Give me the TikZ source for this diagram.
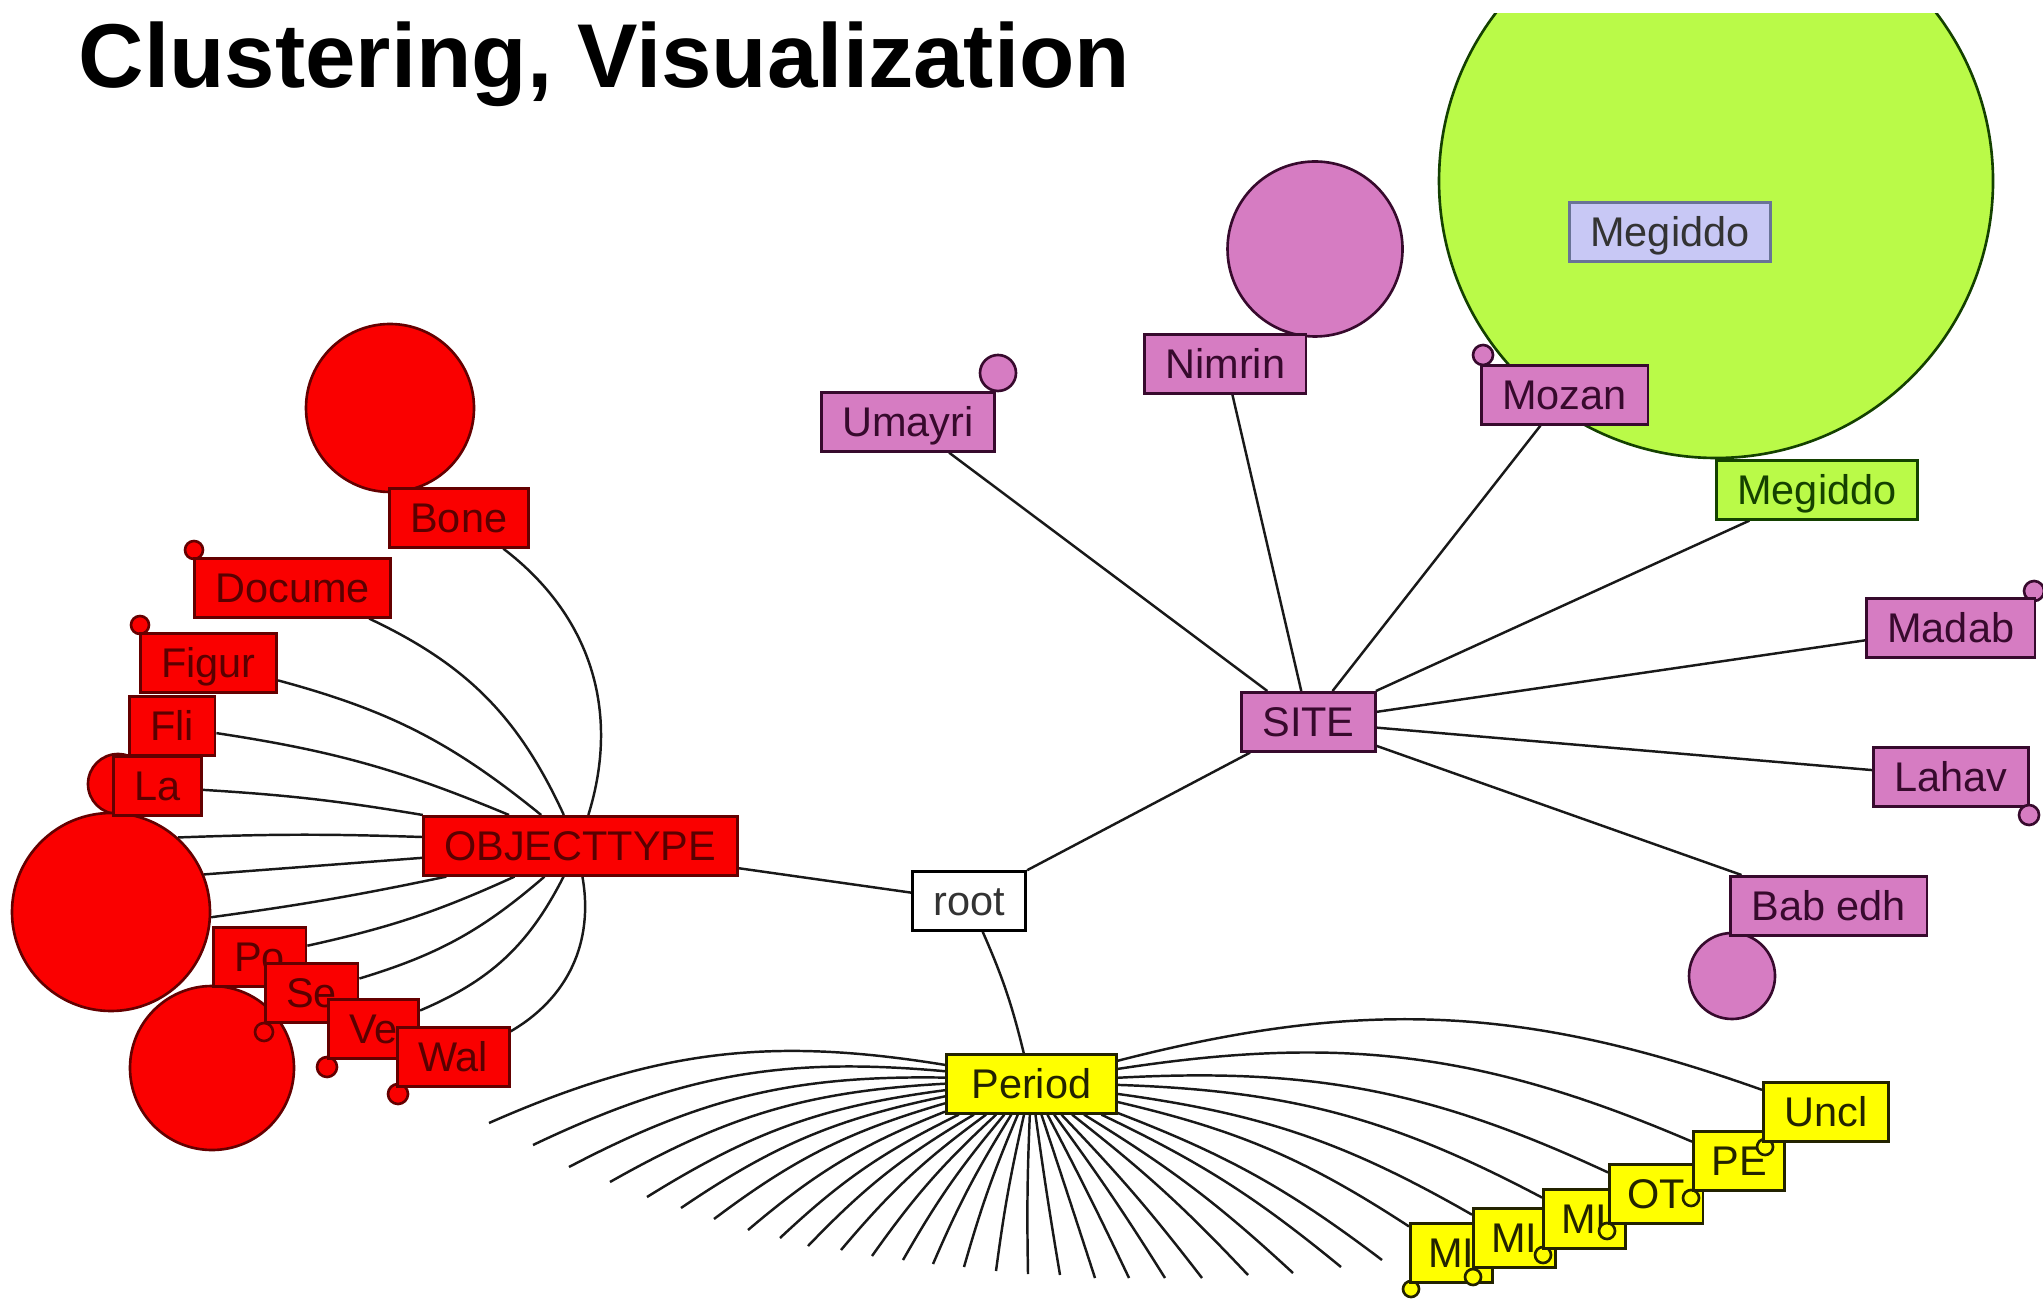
\documentclass[tikz,border=0pt]{standalone}
\usepackage{fontspec}
\setmainfont{Liberation Sans}
\usetikzlibrary{backgrounds}

\definecolor{nodered}{RGB}{250,0,0}
\definecolor{reddark}{RGB}{100,0,0}
\definecolor{redtext}{RGB}{90,0,0}
\definecolor{nodepink}{RGB}{214,124,194}
\definecolor{pinkdark}{RGB}{55,10,45}
\definecolor{nodeyellow}{RGB}{255,255,0}
\definecolor{yellowdark}{RGB}{35,35,0}
\definecolor{nodegreen}{RGB}{186,250,72}
\definecolor{greendark}{RGB}{20,65,0}
\definecolor{boxlavender}{RGB}{200,200,245}
\definecolor{lavenderdark}{RGB}{105,115,150}

\begin{document}
\begin{tikzpicture}[x=0.1mm, y=-0.1mm,
  label box/.style={rectangle, draw, line width=0.75pt, anchor=north west,
    inner xsep=0.21cm, inner ysep=0.145cm, text height=0.3cm, text depth=0pt,
    font=\fontsize{11.8}{14}\selectfont},
  red node/.style={label box, fill=nodered, draw=reddark, text=redtext},
  pink node/.style={label box, fill=nodepink, draw=pinkdark, text=pinkdark},
  yellow node/.style={label box, fill=nodeyellow, draw=yellowdark, text=yellowdark},
  short node/.style={yellow node, inner xsep=0.18cm},
  green node/.style={label box, fill=nodegreen, draw=greendark, text=greendark},
  root node/.style={label box, fill=white, draw=black, text=black!80},
  blob/.style={circle, draw, line width=0.75pt, inner sep=0pt},
  red blob/.style={blob, fill=nodered, draw=reddark},
  pink blob/.style={blob, fill=nodepink, draw=pinkdark},
  yellow blob/.style={blob, fill=nodeyellow, draw=yellowdark},
  green blob/.style={blob, fill=nodegreen, draw=greendark},
  link/.style={line width=0.7pt, draw=black!90}]

\useasboundingbox (0,0) rectangle (2043,1299);

\node[anchor=base west, inner sep=0pt, font=\fontsize{25.8}{30}\selectfont\bfseries]
  (title) at (78,88) {Clustering, Visualization};

% OBJECTTYPE branch
\node[red blob, minimum size=1.68cm] (bonecirc) at (390,408) {};
\node[red blob, minimum size=0.60cm] (flicirc) at (118,784) {};
\node[red blob, minimum size=1.98cm] (lacirc) at (111,912) {};
\node[red blob, minimum size=1.64cm] (pocirc) at (212,1068) {};

\node[red node] (bone) at (388,487) {Bone};
\node[red blob, minimum size=0.18cm] (documedot) at (194,550) {};
\node[red node] (docume) at (193,557) {Docume};
\node[red blob, minimum size=0.18cm] (figurdot) at (140,625) {};
\node[red node] (figur) at (139,632) {Figur};
\node[red node] (fli) at (128,695) {Fli};
\node[red node] (la) at (112,755) {La};
\node[red node] (po) at (212,926) {Po};
\node[red blob, minimum size=0.18cm] (sedot) at (264,1032) {};
\node[red node] (se) at (264,962) {Se};
\node[red blob, minimum size=0.2cm] (vedot) at (327,1067) {};
\node[red node] (ve) at (327,998) {Ve};
\node[red blob, minimum size=0.2cm] (waldot) at (398,1094) {};
\node[red node] (wal) at (396,1026) {Wal};
\node[red node] (objtype) at (422,815) {OBJECTTYPE};

% SITE branch
\begin{scope}
  \clip (1400,14) rectangle (2043,600);
  \node[green blob, minimum size=5.54cm] (megcirc) at (1716,181) {};
\end{scope}
\node[label box, fill=boxlavender, draw=lavenderdark, text=black!80] (meginner) at (1568,201) {Megiddo};
\node[pink blob, minimum size=0.36cm] (umayridot) at (998,373) {};
\node[pink node] (umayri) at (820,391) {Umayri};
\node[pink blob, minimum size=1.75cm] (nimrcirc) at (1315,249) {};
\node[pink node] (nimrin) at (1143,333) {Nimrin};
\node[pink blob, minimum size=0.2cm] (mozandot) at (1483,355) {};
\node[pink node] (mozan) at (1480,364) {Mozan};
\node[green node] (megiddo) at (1715,459) {Megiddo};
\node[pink blob, minimum size=0.2cm] (madabdot) at (2034,591) {};
\node[pink node] (madab) at (1865,597) {Madab};
\node[pink node] (lahav) at (1872,746) {Lahav};
\node[pink blob, minimum size=0.2cm] (lahavdot) at (2029,815) {};
\node[pink blob, minimum size=0.86cm] (babcirc) at (1732,976) {};
\node[pink node] (babedh) at (1729,875) {Bab edh};
\node[pink node] (site) at (1240,691) {SITE};

\node[root node] (root) at (911,870) {root};

% Period branch
\node[yellow node, inner xsep=0.25cm] (period) at (945,1053) {Period};
\node[yellow blob, minimum size=0.16cm] (mi1dot) at (1411,1289) {};
\node[short node] (mi1) at (1409,1222) {MI};
\node[yellow blob, minimum size=0.16cm] (mi2dot) at (1473,1277) {};
\node[short node] (mi2) at (1472,1207) {MI};
\node[yellow blob, minimum size=0.16cm] (mi3dot) at (1543,1255) {};
\node[short node] (mi3) at (1542,1188) {MI};
\node[yellow blob, minimum size=0.16cm] (otdot) at (1607,1231) {};
\node[short node] (ot) at (1608,1163) {OT};
\node[yellow blob, minimum size=0.16cm] (pedot) at (1691,1198) {};
\node[short node] (pe) at (1692,1130) {PE};
\node[yellow blob, minimum size=0.16cm] (uncldot) at (1765,1147) {};
\node[yellow node] (uncl) at (1762,1081) {Uncl};

\begin{scope}[on background layer]
  % object types
  \draw[link] (objtype) to[bend right=35] (bone);
  \draw[link] (objtype) to[bend right=20] (docume);
  \draw[link] (objtype) to[bend right=12] (figur);
  \draw[link] (objtype) to[bend right=7] (fli);
  \draw[link] (objtype) to[bend right=3] (la);
  \draw[link] (objtype) to[bend right=2] (lacirc.48);
  \draw[link] (objtype) -- (lacirc.22);
  \draw[link] (objtype) to[bend left=2] (lacirc.-3);
  \draw[link] (objtype) to[bend left=6] (po);
  \draw[link] (objtype) to[bend left=12] (se);
  \draw[link] (objtype) to[bend left=20] (ve);
  \draw[link] (objtype) to[bend left=35] (wal);

  \draw[link] (objtype) -- (root);
  \draw[link] (root) -- (site);
  \draw[link] (root) to[bend left=5] (period);

  % sites
  \foreach \s in {umayri, nimrin, mozan, megiddo, madab, lahav, babedh}
    \draw[link] (site) -- (\s);

  % periods
  \foreach \fx/\fy [count=\i] in {489/1123, 533/1145, 569/1167, 610/1182,
      647/1197, 681/1208, 714/1219, 748/1230, 780/1238, 808/1246, 841/1250,
      872/1256, 903/1260, 933/1264, 964/1267, 996/1271, 1028/1274, 1060/1275,
      1095/1278, 1129/1278, 1165/1278, 1202/1278, 1248/1275, 1293/1273,
      1341/1267, 1382/1260} {
    \pgfmathsetmacro\bout{(\fx-1090)*0.0275}
    \pgfmathsetmacro\bin{180-\bout}
    \coordinate (fan\i) at (\fx,\fy);
    \draw[link] (period) to[out=\bout, in=\bin, relative] (fan\i);
  }
  \foreach \p/\b in {mi1/10, mi2/11, mi3/13, ot/14, pe/16, uncl/17}
    \draw[link] (period) to[bend left=\b] (\p);
\end{scope}

\end{tikzpicture}
\end{document}
